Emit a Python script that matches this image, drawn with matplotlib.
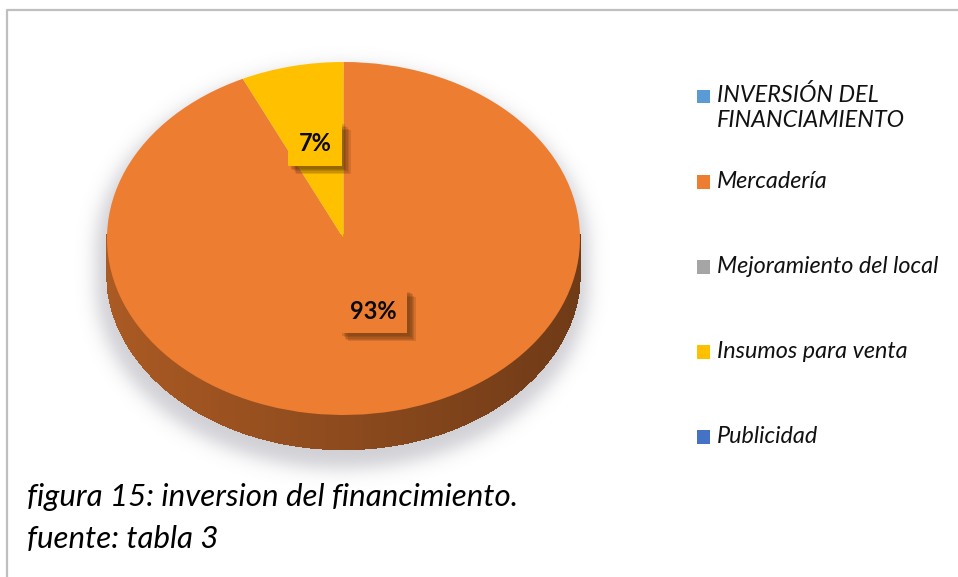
import numpy as np
import matplotlib
matplotlib.use("Agg")
import matplotlib.pyplot as plt
from matplotlib.collections import PolyCollection
from matplotlib.patches import Rectangle
import matplotlib.patheffects as pe
import matplotlib.colors as mcolors

# ---------------- data ----------------
categories = ["INVERSIÓN DEL\nFINANCIAMIENTO", "Mercadería", "Mejoramiento del local",
              "Insumos para venta", "Publicidad"]
values = [0, 93, 0, 7, 0]
colors = ["#5B9BD5", "#ED7D31", "#A5A5A5", "#FFC000", "#4472C4"]
caption_lines = ["figura 15: inversion del financimiento.", "fuente: tabla 3"]

# ---------------- layout ----------------
W, H = 958, 577
DPI = 100
cx, cy, rx, ry = 343.5, 238.5, 236.5, 176.5   # top ellipse, pixels
depth_px = 34
d = depth_px / ry

FONT = "Lato"

fig = plt.figure(figsize=(W / DPI, H / DPI), dpi=DPI)
fig.patch.set_facecolor("white")

# background axes in pixel coordinates
bg = fig.add_axes([0, 0, 1, 1])
bg.set_xlim(0, W)
bg.set_ylim(H, 0)
bg.axis("off")

# border (only left and top visible)
bg.plot([7, 7, W + 5], [H + 5, 10, 10], color="#BFBFBF", lw=1.6, solid_capstyle="butt")

# soft shadow of the pie silhouette
yy, xx = np.mgrid[0:H, 0:W].astype(float)
sx, sy = cx - 2, cy + 12
scale = 1.04
m_top = ((xx - sx) / (rx * scale)) ** 2 + ((yy - sy) / (ry * scale)) ** 2 <= 1
m_bot = ((xx - sx) / (rx * scale)) ** 2 + ((yy - sy - depth_px) / (ry * scale)) ** 2 <= 1
m_mid = (np.abs(xx - sx) <= rx * scale) & (yy >= sy) & (yy <= sy + depth_px)
mask = (m_top | m_bot | m_mid).astype(float)
sig = 9
k = np.exp(-0.5 * (np.arange(-3 * sig, 3 * sig + 1) / sig) ** 2)
k /= k.sum()
blur = np.apply_along_axis(lambda r: np.convolve(r, k, mode="same"), 1, mask)
blur = np.apply_along_axis(lambda c: np.convolve(c, k, mode="same"), 0, blur)
shadow = np.zeros((H, W, 4))
shadow[..., 0] = 0.66
shadow[..., 1] = 0.66
shadow[..., 2] = 0.70
shadow[..., 3] = blur * 0.55
bg.imshow(shadow, extent=(0, W, H, 0), interpolation="bilinear", zorder=0)

# ---------------- pie ----------------
pax = fig.add_axes([(cx - rx) / W, 1 - (cy + ry) / H, 2 * rx / W, 2 * ry / H])
wedges, _ = pax.pie(values, colors=colors, startangle=90, counterclock=False,
                    wedgeprops=dict(linewidth=0))
pax.set_aspect("auto")
pax.set_xlim(-1, 1)
pax.set_ylim(-1, 1)
pax.axis("off")
for w in wedges:
    w.set_clip_on(False)
    w.set_zorder(5)


def wedge_color_at(theta):
    th = theta % 360
    for w, v, c in zip(wedges, values, colors):
        if v <= 0:
            continue
        t1 = w.theta1 % 360
        span = (w.theta2 - w.theta1)
        if ((th - t1) % 360) <= span:
            return c
    return colors[1]


# side of the cake (front half), shaded from left to right
N = 300
xs = np.linspace(-1, 1, N + 1)
polys, fcols = [], []
for i in range(N):
    x0, x1 = xs[i], xs[i + 1]
    xm = 0.5 * (x0 + x1)
    b0 = -np.sqrt(max(0.0, 1 - x0 ** 2)) - d
    b1 = -np.sqrt(max(0.0, 1 - x1 ** 2)) - d
    polys.append([(x0, b0), (x1, b1), (x1, 0.02), (x0, 0.02)])
    theta = np.degrees(np.arctan2(-np.sqrt(max(0.0, 1 - xm ** 2)), xm))
    base = np.array(mcolors.to_rgb(wedge_color_at(theta)))
    f = 0.72 - 0.25 * (xm + 1) / 2
    fcols.append(tuple(base * f))
side = PolyCollection(polys, facecolors=fcols, edgecolors=fcols, linewidths=1.0,
                      antialiaseds=False, zorder=2, clip_on=False)
pax.add_collection(side)

# data labels
label_r = [0.5, 0.43, 0.5, 0.55, 0.5]
label_shift = [0, 4.5, 0, 0, 0]   # degrees, layout tweak
total = float(sum(values))
soft_shadow = [pe.SimplePatchShadow(offset=(o, -o), shadow_rgbFace=(0.3, 0.16, 0.03), alpha=0.16)
               for o in (6, 5, 4, 3, 2)]
for w, v, c, r, sh in zip(wedges, values, colors, label_r, label_shift):
    if v <= 0:
        continue
    mid = np.radians(0.5 * (w.theta1 + w.theta2) + sh)
    lx, ly = r * np.cos(mid), r * np.sin(mid)
    txt = f"{v / total * 100:.0f}%"
    t = pax.text(lx, ly, txt, ha="center", va="center", fontsize=17, fontweight="bold",
                 family=FONT, color="#0A0A0A",
                 bbox=dict(boxstyle="square,pad=0.45", fc=c, ec="none"),
                 zorder=9, clip_on=False)
    t.get_bbox_patch().set_path_effects(soft_shadow + [pe.Normal()])

# ---------------- legend ----------------
leg_y = [96, 181.5, 266.5, 351.5, 436.5]
for lab, c, y in zip(categories, colors, leg_y):
    bg.add_patch(Rectangle((697, y - 6.5), 13.5, 13.5, fc=c, ec="none", zorder=3))
    if "\n" in lab:
        bg.text(717, y - 12, lab, ha="left", va="top", fontsize=16.8, style="italic",
                family=FONT, color="#111111", linespacing=1.25)
    else:
        bg.text(717, y, lab, ha="left", va="center", fontsize=16.8, style="italic",
                family=FONT, color="#111111")

# ---------------- caption ----------------
bg.text(27, 497, caption_lines[0], ha="left", va="center", fontsize=22.5, style="italic",
        family=FONT, color="#000000")
bg.text(27, 539, caption_lines[1], ha="left", va="center", fontsize=22.5, style="italic",
        family=FONT, color="#000000")

fig.savefig("out.png", dpi=DPI, facecolor="white")
